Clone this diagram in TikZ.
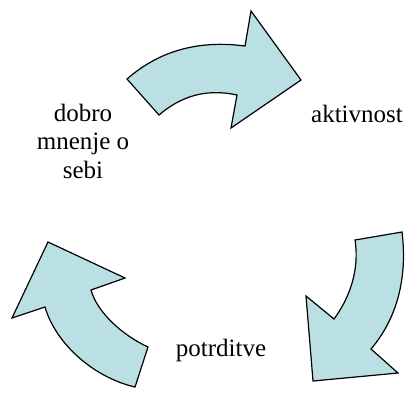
\documentclass[tikz,border=0pt]{standalone}
\usepackage{fontspec}
\setmainfont{Liberation Serif}
\definecolor{cyclefill}{RGB}{187,224,228}
\begin{document}
\begin{tikzpicture}[
  x=1pt, y=-1pt,
  cyclearrow/.style={draw=black, fill=cyclefill, line width=1.2pt},
  lbl/.style={font=\fontsize{25}{28.5}\selectfont, inner sep=0pt, anchor=base}
]
  \useasboundingbox (0,0) rectangle (406,392);

  % --- zgornja puscica ---
  \draw[cyclearrow] (127,79) .. controls (160,50) and (200,40) .. (245,46)
    -- (251,11) -- (301,80) -- (231,128) -- (237,95)
    .. controls (205,88) and (180,97) .. (159,115) -- cycle;

  % --- desna puscica ---
  \draw[cyclearrow] (355,240) -- (402,232)
    .. controls (407,272) and (400,315) .. (371,349)
    -- (398,373) -- (313,381) -- (306,296) -- (334,319)
    .. controls (348,300) and (360,272) .. cycle;

  % --- leva puscica ---
  \draw[cyclearrow] (135,387) -- (148,347)
    .. controls (122,335) and (97,312) .. (91,290)
    -- (125,278) -- (48,242) -- (12,318) -- (45,307)
    .. controls (55,342) and (92,377) .. cycle;

  % --- besedila ---
  \node[lbl, align=center] (samopodoba) at (83,178) {dobro\\mnenje o\\sebi};
  \node[lbl] (aktivnost) at (357,122) {aktivnost};
  \node[lbl] (potrditve) at (221,356) {potrditve};
\end{tikzpicture}
\end{document}
